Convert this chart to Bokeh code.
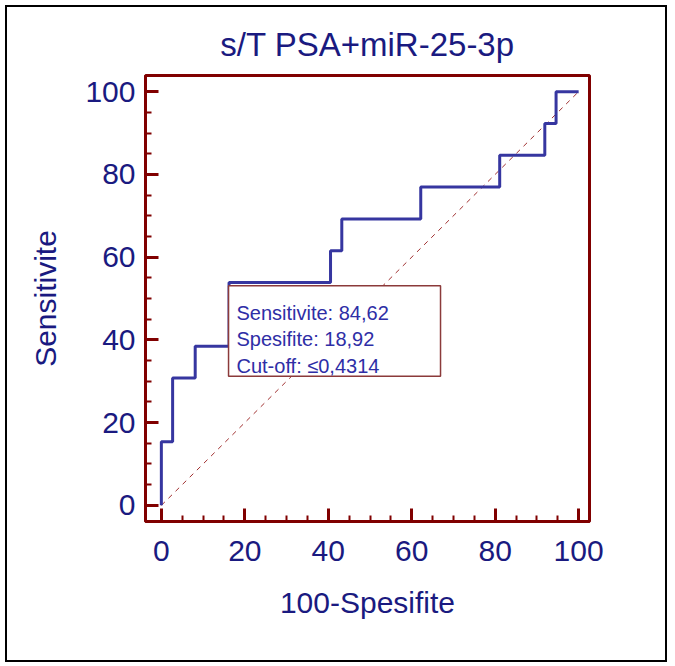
from bokeh.plotting import figure
from bokeh.models import Range1d, FixedTicker, BoxAnnotation, Label
from bokeh.embed import file_html
from bokeh.resources import INLINE

# ROC curve corner points (100-Specificity, Sensitivity)
fpr = [0, 0, 2.70, 2.70, 8.11, 8.11, 16.22, 16.22, 40.54, 40.54, 43.24, 43.24,
       62.16, 62.16, 81.08, 81.08, 91.89, 91.89, 94.59, 94.59, 100]
sens = [0, 15.38, 15.38, 30.77, 30.77, 38.46, 38.46, 53.85, 53.85, 61.54, 61.54,
        69.23, 69.23, 76.92, 76.92, 84.62, 84.62, 92.31, 92.31, 100, 100]
ref_x = [0, 100]
ref_y = [0, 100]
major_ticks = [0, 20, 40, 60, 80, 100]
minor_ticks = [5, 10, 15, 25, 30, 35, 45, 50, 55, 65, 70, 75, 85, 90, 95]
title_text = "s/T PSA+miR-25-3p"
x_label = "100-Spesifite"
y_label = "Sensitivite"
info_lines = ["Sensitivite: 84,62", "Spesifite: 18,92", "Cut-off: \u22640,4314"]

FONT = "Liberation Sans"
NAVY = "#1a1a80"
MAROON = "#800000"
LINEBLUE = "#3636a0"

p = figure(width=662, height=657, output_backend="svg", toolbar_location=None,
           x_range=Range1d(-3.8, 102.6), y_range=Range1d(-3.9, 103.9),
           min_border_left=138, min_border_right=80, min_border_top=68,
           min_border_bottom=143)
p.styles = {"border": "2px solid black", "margin-left": "5px", "margin-top": "5px"}

p.title.text = title_text
p.title.align = "center"
p.title.text_font = FONT
p.title.text_font_size = "33px"
p.title.text_font_style = "normal"
p.title.text_color = NAVY
p.title.standoff = 25

p.xgrid.visible = False
p.ygrid.visible = False
p.outline_line_color = MAROON
p.outline_line_width = 3
p.outline_line_alpha = 1.0

for ax in (p.xaxis[0], p.yaxis[0]):
    ax.ticker = FixedTicker(ticks=major_ticks, minor_ticks=minor_ticks)
    ax.axis_line_color = MAROON
    ax.axis_line_width = 3
    ax.major_tick_line_color = MAROON
    ax.major_tick_line_width = 3
    ax.major_tick_in = 13
    ax.major_tick_out = 0
    ax.minor_tick_line_color = MAROON
    ax.minor_tick_line_width = 2
    ax.minor_tick_in = 6
    ax.minor_tick_out = 0
    ax.major_label_text_font = FONT
    ax.major_label_text_font_size = "30px"
    ax.major_label_text_color = NAVY
    ax.axis_label_text_font = FONT
    ax.axis_label_text_font_size = "30px"
    ax.axis_label_text_font_style = "normal"
    ax.axis_label_text_color = NAVY

p.xaxis.axis_label = x_label
p.yaxis.axis_label = y_label
p.xaxis.major_label_standoff = 19
p.xaxis.axis_label_standoff = 22
p.yaxis.major_label_standoff = 10
p.yaxis.axis_label_standoff = 20

p.line(ref_x, ref_y, line_color="#a03030", line_width=1, line_dash="5 5")
p.line(fpr, sens, line_color=LINEBLUE, line_width=3)

box = BoxAnnotation(left=16.1, right=66.9, top=53.1, bottom=31.2,
                    fill_color="white", fill_alpha=1.0,
                    line_color="#8b3a3a", line_width=1.5, line_alpha=1.0)
p.add_layout(box)

for i, t in enumerate(info_lines):
    lab = Label(x=18.0, y=46.6 - 6.4 * i, text=t, text_font=FONT,
                text_font_size="20px", text_color="#2e2ea6",
                text_baseline="alphabetic", text_align="left")
    p.add_layout(lab)

open("out.html", "w").write(file_html(p, INLINE))
